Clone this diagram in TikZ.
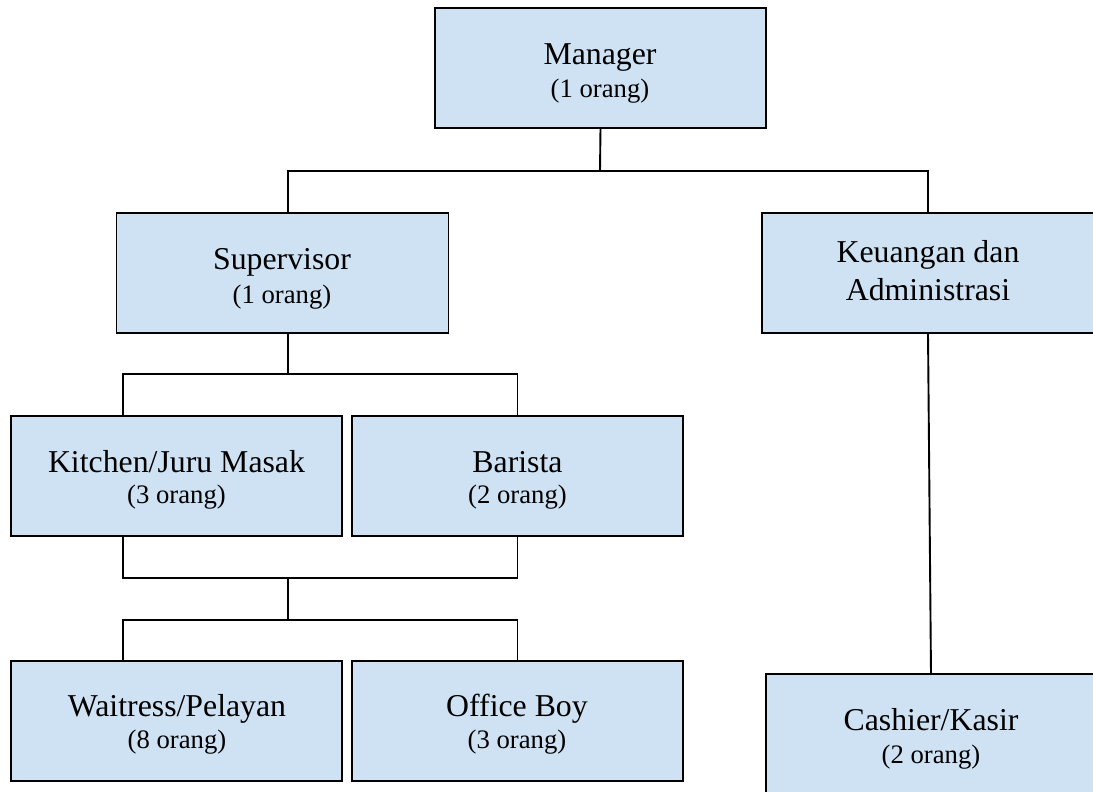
\documentclass[tikz,border=0pt]{standalone}
\usepackage{fontspec}
\setmainfont{Liberation Serif}
\definecolor{boxfill}{HTML}{CFE2F3}
\begin{document}
\begin{tikzpicture}[x=1pt,y=-1pt,
  box/.style={draw=black, fill=boxfill, line width=1.9pt, minimum width=331pt, minimum height=120pt, inner sep=0pt, outer sep=0pt},
  big/.style={font=\fontsize{31.8}{36}\selectfont, anchor=base, inner sep=0pt},
  small/.style={font=\fontsize{26.7}{30}\selectfont, anchor=base, inner sep=0pt},
  conn/.style={line width=1.9pt, line join=miter}]
\useasboundingbox (0,0) rectangle (1093,792);
% boxes
\node[box] (mgr) at (600.5,68) {};
\node[box,minimum width=332pt] (sup) at (282.5,273) {};
\node[box,minimum width=332pt] (keu) at (928,273) {};
\node[box] (kit) at (176.5,476) {};
\node[box] (bar) at (517.5,476) {};
\node[box] (wai) at (176.5,721) {};
\node[box] (off) at (517.5,721) {};
\node[box,minimum width=330pt] (cas) at (931,734) {};
% texts
\node[big] (mgrT) at (600,65) {Manager};
\node[small] (mgrS) at (600,97) {(1 orang)};
\node[big] (supT) at (282,269) {Supervisor};
\node[small] (supS) at (282,303) {(1 orang)};
\node[big] (keuT) at (928,262) {Keuangan dan};
\node[big] (keuS) at (928,300) {Administrasi};
\node[big] (kitT) at (176.5,472) {Kitchen/Juru Masak};
\node[small] (kitS) at (176.5,503) {(3 orang)};
\node[big] (barT) at (517.5,472) {Barista};
\node[small] (barS) at (517.5,503) {(2 orang)};
\node[big] (waiT) at (177,716) {Waitress/Pelayan};
\node[small] (waiS) at (177,748) {(8 orang)};
\node[big] (offT) at (517,716) {Office Boy};
\node[small] (offS) at (517,748) {(3 orang)};
\node[big] (casT) at (931,730) {Cashier/Kasir};
\node[small] (casS) at (931,763) {(2 orang)};
% connectors
\coordinate (j1) at (600,171);
\draw[conn] (mgr.south) -- (j1);
\draw[conn] ([xshift=5.5pt]sup.north) |- (j1) -| (keu.north);
\coordinate (j2) at (288,374);
\draw[conn] ([xshift=5.5pt]sup.south) -- (j2);
\draw[conn] ([xshift=-53.5pt]kit.north) |- (j2) -| (bar.north);
\coordinate (j3) at (288,578);
\draw[conn] ([xshift=-53.5pt]kit.south) |- (j3) -| (bar.south);
\coordinate (j4) at (288,620);
\draw[conn] (j3) -- (j4);
\draw[conn] ([xshift=-53.5pt]wai.north) |- (j4) -| (off.north);
\draw[conn] (keu.south) -- (cas.north);
\end{tikzpicture}
\end{document}
